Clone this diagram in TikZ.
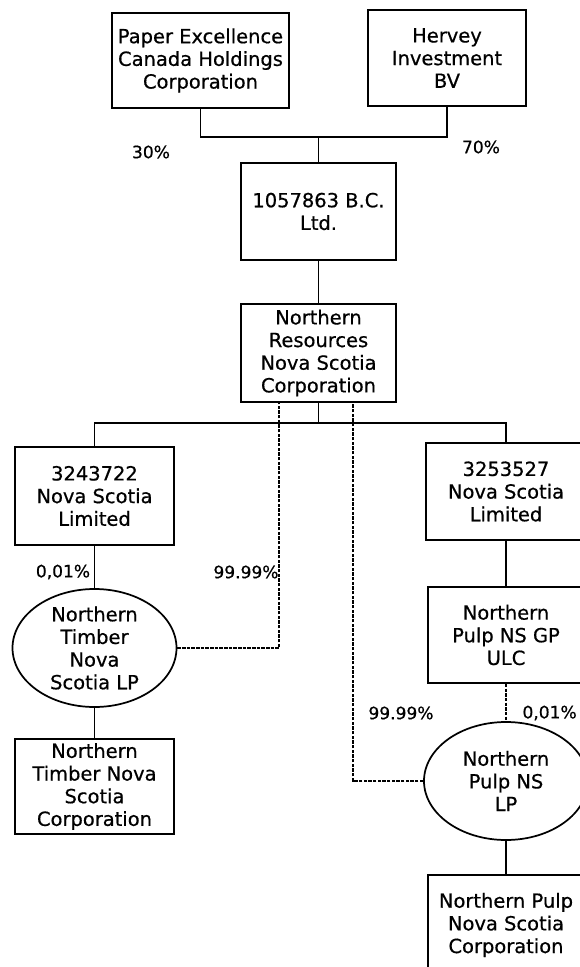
\documentclass[tikz,border=0pt]{standalone}
\usepackage{fontspec}
\setmainfont[FakeBold=0.6]{DejaVu Sans}
\usetikzlibrary{shapes.geometric}
\tikzset{
  box/.style={draw, line width=1.3pt, align=center, inner sep=0pt,
    font=\fontsize{14.6}{17}\selectfont},
  lp/.style={box, ellipse},
  link/.style={line width=1.3pt},
  own/.style={line width=1.8pt, dash pattern=on 2.6pt off 0.9pt},
  pct/.style={font=\fontsize{12.8}{14}\selectfont, inner sep=0pt},
}
\begin{document}
\begin{tikzpicture}[x=0.75pt, y=-0.75pt]
  \useasboundingbox (0,0) rectangle (579,967);
  % owners
  \node[box, minimum width=132.75pt, minimum height=71.25pt] (paper) at (200.5,60.5)
    {Paper Excellence\\Canada Holdings\\Corporation};
  \node[box, minimum width=118.5pt, minimum height=72pt] (hervey) at (447,58)
    {Hervey\\Investment\\BV};
  \node[box, minimum width=116.25pt, minimum height=72.75pt] (bc) at (318.5,211.5)
    {1057863 B.C.\\Ltd.};
  \node[box, minimum width=116.25pt, minimum height=73.5pt] (nrns) at (318.5,353)
    {Northern\\Resources\\Nova Scotia\\Corporation};
  \coordinate (top) at (318.5,137);
  \draw[link] (paper.south) |- (top) -| (hervey.south);
  \draw[link] (top) -- (bc.north);
  \draw[link] (bc.south) -- (nrns.north);
  \node[pct] (p30) at (151,152) {30\%};
  \node[pct] (p70) at (481,147) {70\%};
  % timber side
  \node[box, minimum width=119.25pt, minimum height=73.5pt] (nsa) at (94.5,496)
    {3243722\\Nova Scotia\\Limited};
  \node[lp, minimum width=123pt, minimum height=88.5pt] (timberlp) at (94.5,648)
    {Northern\\Timber\\Nova\\Scotia LP};
  \node[box, minimum width=119.25pt, minimum height=71.25pt] (timbercorp) at (94.5,786.5)
    {Northern\\Timber Nova\\Scotia\\Corporation};
  % pulp side
  \node[box, minimum width=120pt, minimum height=72.75pt] (nsb) at (506,491.5)
    {3253527\\Nova Scotia\\Limited};
  \node[box, minimum width=117pt, minimum height=72pt] (pulpgp) at (506,635)
    {Northern\\Pulp NS GP\\ULC};
  \node[lp, minimum width=123pt, minimum height=88.5pt] (pulplp) at (506,781)
    {Northern\\Pulp NS\\LP};
  \node[box, minimum width=117pt, minimum height=75pt] (pulpcorp) at (506,925)
    {Northern Pulp\\Nova Scotia\\Corporation};
  \coordinate (bus) at (318.5,423);
  \draw[link] (nrns.south) -- (bus);
  \draw[link] (nsa.north) |- (bus) -| (nsb.north);
  \draw[link] (nsa.south) -- (timberlp.north);
  \draw[link] (timberlp.south) -- (timbercorp.north);
  \draw[link] (nsb.south) -- (pulpgp.north);
  \draw[link] (pulplp.south) -- (pulpcorp.north);
  \coordinate (tdash) at (279,402);
  \coordinate (pdash) at (353,402);
  \draw[own] (timberlp.east) -| (tdash);
  \draw[own] (pulplp.west) -| (pdash);
  \draw[own] (pulpgp.south) -- (pulplp.north);
  \node[pct] (ta) at (63,572) {0,01\%};
  \node[pct] (tb) at (246,572) {99.99\%};
  \node[pct] (pa) at (401,713) {99.99\%};
  \node[pct, anchor=east] (pb) at (577,713) {0,01\%};
\end{tikzpicture}
\end{document}
